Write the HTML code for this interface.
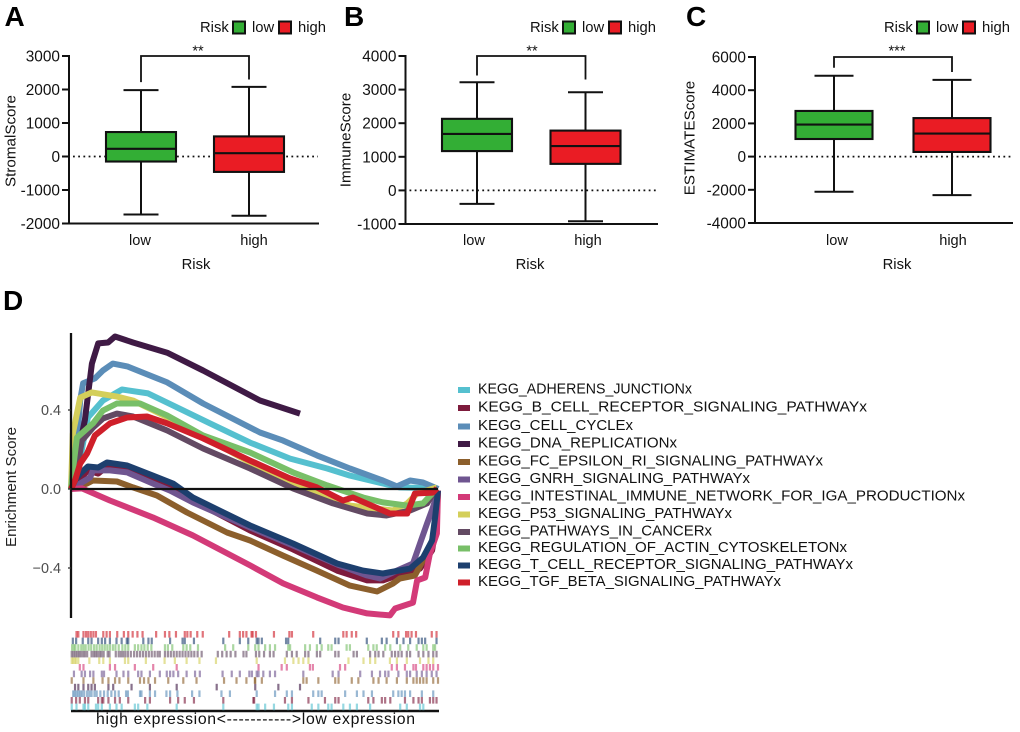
<!DOCTYPE html>
<html lang="en">
<head>
<meta charset="utf-8">
<title>Risk score boxplots and GSEA enrichment</title>
<style>
html,body{margin:0;padding:0;background:#fff;}
#figure{display:block;width:1020px;height:732px;font-family:"Liberation Sans",sans-serif;}
</style>
</head>
<body>
<svg id="figure" xmlns="http://www.w3.org/2000/svg" width="1020" height="732" viewBox="0 0 1020 732">
  <text x="4.5" y="26" font-size="28" font-weight="bold" fill="#000">A</text>
  <text x="344" y="26" font-size="28" font-weight="bold" fill="#000">B</text>
  <text x="686" y="26" font-size="28" font-weight="bold" fill="#000">C</text>
  <text x="3" y="310" font-size="28" font-weight="bold" fill="#000">D</text>
  <g id="boxA"></g>
  <g id="boxB"></g>
  <g id="boxC"></g>
  <g id="gsea"></g>
  <text x="96" y="724" font-size="15.8" textLength="319" lengthAdjust="spacing" fill="#111">high expression&lt;-----------&gt;low expression</text>
  <text transform="translate(15.8,487) rotate(-90)" font-size="15.1" text-anchor="middle" fill="#222">Enrichment Score</text>
</svg>
<script>
/* ---- box plot data: [min, q1, median, q3, max] ---- */
var categories = ['low', 'high'];
var stromalTicks = [-2000, -1000, 0, 1000, 2000, 3000];
var stromalLow = [-1730, -150, 230, 730, 1980];
var stromalHigh = [-1770, -460, 100, 600, 2080];
var stromalBracket = [2220, 3000, 2300];
var immuneTicks = [-1000, 0, 1000, 2000, 3000, 4000];
var immuneLow = [-400, 1170, 1680, 2130, 3220];
var immuneHigh = [-920, 790, 1320, 1780, 2920];
var immuneBracket = [3420, 4000, 3300];
var estimateTicks = [-4000, -2000, 0, 2000, 4000, 6000];
var estimateLow = [-2120, 1060, 1930, 2750, 4870];
var estimateHigh = [-2320, 280, 1390, 2320, 4620];
var estimateBracket = [5350, 6000, 5100];

/* ---- enrichment data: rank (%) and running enrichment score ---- */
var gseaTicks = [-0.4, 0.0, 0.4];
var seriesNames = ['KEGG_ADHERENS_JUNCTIONx','KEGG_B_CELL_RECEPTOR_SIGNALING_PATHWAYx','KEGG_CELL_CYCLEx','KEGG_DNA_REPLICATIONx','KEGG_FC_EPSILON_RI_SIGNALING_PATHWAYx','KEGG_GNRH_SIGNALING_PATHWAYx','KEGG_INTESTINAL_IMMUNE_NETWORK_FOR_IGA_PRODUCTIONx','KEGG_P53_SIGNALING_PATHWAYx','KEGG_PATHWAYS_IN_CANCERx','KEGG_REGULATION_OF_ACTIN_CYTOSKELETONx','KEGG_T_CELL_RECEPTOR_SIGNALING_PATHWAYx','KEGG_TGF_BETA_SIGNALING_PATHWAYx'];
var adherensRank = [0,1.9,4.6,8.7,13.9,21,28.9,37.9,48.8,59.7,69.8,76,85,89.6,99.7];
var adherensES = [0,.095,.362,.448,.504,.484,.413,.332,.235,.154,.104,.068,.028,.008,.003];
var bcellRank = [0,1.9,4.6,7.4,9.8,15.3,22.3,27.8,33.2,48.8,60.5,72.5,80.7,85,88.8,95.1,98.4,99.5,100];
var bcellES = [0,.04,.094,.078,.114,.114,.058,.013,-.058,-.21,-.306,-.413,-.463,-.463,-.438,-.403,-.311,-.185,-.008];
var cellCycleRank = [0,1.1,2.5,3.3,6.5,8.7,11.4,15.5,26.2,36,51.5,57.8,67,76,85,88.8,92.4,95.9,99.7,100];
var cellCycleES = [0,.09,.45,.535,.56,.60,.635,.62,.54,.433,.286,.245,.17,.104,.043,.013,.043,.033,.003,0];
var dnaRank = [0,3.8,5.7,7.4,10.1,12,16.9,26.2,36,51.5,62.4];
var dnaES = [0,.35,.635,.737,.742,.772,.742,.69,.60,.448,.382];
var fcRank = [0,1.9,4.4,6,12.5,16.9,23.4,31.6,42.5,48.8,57.8,67,76,83.4,87.7,89.6,93.7,95.9,98.4,99.7,100];
var fcES = [0,.013,.028,.043,.038,.008,-.033,-.119,-.22,-.261,-.337,-.413,-.489,-.519,-.479,-.453,-.438,-.362,-.261,-.144,-.008];
var gnrhRank = [0,2.5,5.2,6,10.6,15.3,22.3,27,33.2,48.8,60.5,72.5,80.7,84.2,88.8,93.2,95.1,97,98.6,100];
var gnrhES = [0,.028,.058,.094,.094,.084,.028,-.008,-.068,-.195,-.286,-.382,-.438,-.453,-.413,-.377,-.276,-.175,-.094,-.008];
var intestinalRank = [0,3,10.6,22.3,33.2,48.8,57.8,67,74.1,80.7,86.9,88.3,93.2,94.3,96.5,97.8,99.7,100];
var intestinalES = [0,.003,-.058,-.144,-.235,-.387,-.478,-.549,-.6,-.63,-.64,-.605,-.575,-.463,-.448,-.327,-.225,-.008];
var p53Rank = [0,.5,2.5,5.7,12.5,16.9,27,37.9,48.8,62.4,76,87.7,91.6,94.3,99.7];
var p53ES = [0,.28,.463,.489,.468,.448,.357,.246,.134,.013,-.084,-.109,-.073,-.023,.008];
var cancerRank = [0,1.1,3,6,8.7,12.5,16.9,26.2,36,48.8,60.5,71.4,80.7,86,92.4,97,99.2,100];
var cancerES = [0,.043,.246,.311,.357,.382,.367,.296,.205,.104,.003,-.073,-.124,-.134,-.109,-.073,-.008,0];
var actinRank = [0,.5,1.6,6,8.7,12.5,18.8,26.2,36,48.8,60.5,69.8,79.6,85,91.6,95.9,99.7];
var actinES = [0,.094,.26,.332,.397,.433,.433,.372,.271,.185,.084,.018,-.043,-.068,-.084,-.073,.003];
var tcellRank = [0,1.1,2.5,4.6,7.4,9.8,15.3,22.3,27.8,33.2,48.8,60.5,72.5,79.6,85,92.4,95.9,98.4,99.2,100];
var tcellES = [0,.043,.078,.114,.109,.134,.119,.068,.028,-.043,-.185,-.276,-.377,-.413,-.428,-.403,-.347,-.261,-.144,-.008];
var tgfRank = [0,1.1,2.5,4.4,6.5,10.6,15.3,20.7,26.2,36,48.8,59.7,67,74.1,76.8,86.9,91.6,93.7,98.6,99.7];
var tgfES = [0,.043,.129,.18,.271,.332,.362,.367,.332,.256,.144,.053,.008,-.058,-.043,-.124,-.124,-.023,-.018,.003];

/* ---- gene hit ranks (%) for the rug rows ---- */
var adherensHits = [.2,1.5,3.4,3.8,4.7,6.8,7.4,8.4,10.6,12.4,13.8,17.4,18.3,20.8,28.8,41.5,50.6,51.1,52.9,55.3,59.2,60.2,65.6,67.4,70.1,71,74.2,76,77.9,81.5,89.7,91.5,95.1,96];
var bcellHits = [.2,1.4,2.4,3.8,4.7,7.4,8.4,8.8,10.2,12,13.3,15.6,20.2,21.5,27,29.2,31,33.5,41.5,49.7,49.9,58.3,60.2,64.7,69.2,72,72.9,81,82.4,84.7,85.6,87,91,93.3,94.7,95.6,97.8,98.7,99.6];
var cellCycleHits = [.6,1,1.5,2,2.5,3,3.6,4.4,5,5.6,6.4,7,8,9,10,11,12,13,15,15.5,18.8,19.2,21.5,22.9,26,27,29,33,35,41,43.3,50.6,55.6,58.8,60.2,66,67.4,68.3,74.7,77.9,79.7,82,87.8,89.2,90.1,91,92.4,95.6,98.7];
var dnaHits = [1.1,2,3.4,4.7,5.6,6.5,10.2,11.5,16.5,21.5,28.8,39.7,50.2,56.5,62.4];
var fcHits = [.2,3.4,6.1,8.6,10.2,12,13.2,15.6,18.8,19.9,21.1,22.9,26.5,30.6,34.2,41.7,45.1,47.8,50.1,50.2,52,63.3,64.2,67.4,72,72.9,76.5,78.3,82.4,83.8,86,88.8,91.5,93.3,94.2,95.1,96,96.9,98.7,100];
var gnrhHits = [.8,2.9,3.8,5.2,6.1,8.4,9,12.4,14.3,15.6,18.3,19.2,21.5,24.2,26.1,27,27.9,29.2,31.5,33.8,35.1,41.3,43.8,46,48.6,49.3,50.6,51.1,52.4,54.2,55.6,63.3,71.3,72.9,78.8,82,84.2,85.6,86.5,89.2,91.5,92.4,94.2,95.6,96.9,98.3,99.6];
var intestinalHits = [2.4,3.4,10.6,12,17.4,22.4,28.8,51.1,57.4,58.8,65.1,65.9,73.3,74.7,87.4,88.8,91,93.3,94,96,96.9,97.8,98.7,100];
var p53Hits = [.2,.6,1,1.4,2,5,7.7,8.8,10.6,14.7,15.6,20.4,25.5,28.3,31.5,35,39.5,50.6,58.3,60.6,62,63.3,64.7,75.6,79.7,81.5,82.9,86.9,88.8,91.5,95.1,97.4,98.7];
var cancerHits = [.2,.7,1.2,1.7,2.2,2.7,3.3,3.8,4.4,5.6,6.2,6.7,7.2,7.8,8.3,8.9,10,10.5,12.2,13,13.6,14.2,14.8,15.5,16.3,17.2,18,18.8,19.6,20.4,21.2,22,22.8,23.6,24.2,25.6,26.4,27.2,28,28.8,29.6,30.4,31.2,32,32.8,33.6,34.5,35.6,40,41.2,42.4,43.5,44.8,47,47.8,50.4,51.3,52.6,54.2,55.2,58.8,60.2,61.5,63.8,64.7,67,67.9,72,72.9,77,77.9,81.5,82.9,83.8,85.1,87.4,88.3,89.2,90.1,91.5,92.4,94.7,96,97.4,98.7,99.6];
var actinHits = [.3,.8,1.2,2,2.8,3.4,4,4.8,5.5,6.3,7,7.8,8.5,9.2,9.9,10.6,11.4,12.1,13,14,14.8,15.6,17.4,18.3,19.2,20,20.9,21.9,25.6,26.4,27.6,30.6,31.5,32.5,34.6,42,44.2,48.3,50.2,51.1,52.9,54.2,55.6,59.2,59.7,63.8,65.1,67,68.3,70.1,71,75.1,76,81,82.4,83.3,85.6,87,89.7,91.9,94.2,96,96.9,98.7,99.2];
var tcellHits = [.5,1.4,3.2,4.7,5.6,7.4,8.4,9.3,10.6,12.4,13.8,15.2,15.6,19.7,21.1,22,27,30.4,31,33.5,41.5,46,48.3,50.6,51.1,52,58.6,59.2,67.9,72,72.9,80.6,84.7,86,88.8,90.6,92.4,94.7,95.6,96.5,99.6];
var tgfHits = [1.5,2,3.4,4.1,4.7,5.4,6.1,6.8,8.8,9.7,10.6,12.6,14.4,15.6,16.8,18.1,19.5,23.2,25.6,26.8,28.6,31,31.7,32.6,34.4,35.9,43.1,46,46.9,47.8,49.2,49.5,50.4,55.3,59.5,60.2,66,74.2,75.1,76.5,77.7,87.8,89.2,91.3,91.9,92.8,94,98.3,99.6];

var NS = 'http://www.w3.org/2000/svg';
function mk(tag, attrs, parent) {
  var e = document.createElementNS(NS, tag);
  for (var k in attrs) e.setAttribute(k, attrs[k]);
  parent.appendChild(e);
  return e;
}
function linear(d0, d1, r0, r1) {
  return function (v) { return r0 + (v - d0) * (r1 - r0) / (d1 - d0); };
}

function drawBoxPanel(cfg) {
  var g = document.getElementById(cfg.id);
  var y = linear(cfg.ticks[0], cfg.ticks[cfg.ticks.length - 1], cfg.bottom, cfg.top);
  var line, label;

  line = mk('line', {x1: cfg.axisX + 4, x2: cfg.axisEnd - 1, y1: y(0), y2: y(0), stroke: '#111', 'stroke-width': 1.8, 'stroke-dasharray': '1.8 3.4'}, g);
  
  

  var groups = [cfg.low, cfg.high];
  var fills = ['#33ae35', '#ea1c24'];
  groups.forEach(function (s, i) {
    var c = cfg.centers[i];
    var hw = cfg.boxW / 2, cw = cfg.capW / 2;
    var bg = mk('g', {}, g);
    
    
    mk('line', {x1: c, x2: c, y1: y(s[0]), y2: y(s[4]), stroke: '#111', 'stroke-width': 2}, bg);
    mk('line', {x1: c - cw, x2: c + cw, y1: y(s[0]), y2: y(s[0]), stroke: '#111', 'stroke-width': 2}, bg);
    mk('line', {x1: c - cw, x2: c + cw, y1: y(s[4]), y2: y(s[4]), stroke: '#111', 'stroke-width': 2}, bg);
    mk('rect', {x: c - hw, y: y(s[3]), width: cfg.boxW, height: y(s[1]) - y(s[3]), fill: fills[i], stroke: '#111', 'stroke-width': 2.1}, bg);
    mk('line', {x1: c - hw, x2: c + hw, y1: y(s[2]), y2: y(s[2]), stroke: '#111', 'stroke-width': 2.1}, bg);

    label = mk('text', {x: cfg.labelX[i], y: 245, 'font-size': 14.6, 'text-anchor': 'middle', fill: '#111'}, g);
    label.textContent = categories[i];
    
    
  });

  var axes = mk('g', {stroke: '#111', 'stroke-width': 2, fill: 'none'}, g);
  
  
  mk('line', {x1: cfg.axisX, x2: cfg.axisX, y1: cfg.top - 1, y2: cfg.bottom + 1}, axes);
  mk('line', {x1: cfg.axisX - 7, x2: cfg.axisEnd, y1: cfg.bottom, y2: cfg.bottom}, axes);

  cfg.ticks.forEach(function (t) {
    mk('line', {x1: cfg.axisX - 7, x2: cfg.axisX, y1: y(t), y2: y(t), stroke: '#111', 'stroke-width': 2}, g);
    label = mk('text', {x: cfg.axisX - 9, y: y(t) + 5.5, 'font-size': 15.4, 'text-anchor': 'end', fill: '#111'}, g);
    label.textContent = String(t);
    
    
  });

  var br = cfg.bracket;
  var bracket = mk('path', {d: 'M' + cfg.centers[0] + ' ' + y(br[0]) + 'V' + y(br[1]) + 'H' + cfg.centers[1] + 'V' + y(br[2]), fill: 'none', stroke: '#111', 'stroke-width': 1.8}, g);
  
  
  label = mk('text', {x: cfg.starX, y: 55.5, 'font-size': 14.5, 'text-anchor': 'middle', fill: '#111'}, g);
  label.textContent = cfg.stars;
  
  

  label = mk('text', {transform: 'translate(' + cfg.titleX + ',' + cfg.titleY + ') rotate(-90)', 'font-size': 15.2, 'text-anchor': 'middle', fill: '#111'}, g);
  label.textContent = cfg.title;
  
  
  label = mk('text', {x: cfg.riskX, y: 269, 'font-size': 14.8, 'text-anchor': 'middle', fill: '#111'}, g);
  label.textContent = 'Risk';
  
  

  var lx = cfg.legendX;
  label = mk('text', {x: lx, y: 32, 'font-size': 14.8, fill: '#111'}, g);
  label.textContent = 'Risk';
  
  
  [[33, 52], [79, 98]].forEach(function (o, i) {
    var sw = mk('rect', {x: lx + o[0], y: 21.5, width: 12, height: 12, fill: fills[i], stroke: '#111', 'stroke-width': 2}, g);
    
    
    label = mk('text', {x: lx + o[1], y: 32, 'font-size': 14.8, fill: '#111'}, g);
    label.textContent = categories[i];
    
    
  });
}

drawBoxPanel({id: 'boxA', ticks: stromalTicks, low: stromalLow, high: stromalHigh, bracket: stromalBracket, top: 56, bottom: 223.5, axisX: 69, axisEnd: 319, centers: [141, 249], labelX: [140, 254], boxW: 70, capW: 35, starX: 198, stars: '**', title: 'StromalScore', titleX: 15.5, titleY: 141, riskX: 196, legendX: 200});
drawBoxPanel({id: 'boxB', ticks: immuneTicks, low: immuneLow, high: immuneHigh, bracket: immuneBracket, top: 56, bottom: 224, axisX: 405.5, axisEnd: 658, centers: [477, 585.5], labelX: [474, 588], boxW: 70, capW: 35, starX: 532, stars: '**', title: 'ImmuneScore', titleX: 350.5, titleY: 140, riskX: 530, legendX: 530});
drawBoxPanel({id: 'boxC', ticks: estimateTicks, low: estimateLow, high: estimateHigh, bracket: estimateBracket, top: 57, bottom: 223, axisX: 755, axisEnd: 1013, centers: [834, 952], labelX: [837, 953], boxW: 77, capW: 39, starX: 897, stars: '***', title: 'ESTIMATEScore', titleX: 694.5, titleY: 138, riskX: 897, legendX: 884});

/* ---- enrichment plot ---- */
var colors = ['#55c0cf','#7d1b3c','#5b8db8','#3f1a45','#8c5f2c','#6f5590','#d33a78','#d4cf5a','#634a63','#78bf68','#1d3f6e','#cf1f2a'];
var ranks = [adherensRank, bcellRank, cellCycleRank, dnaRank, fcRank, gnrhRank, intestinalRank, p53Rank, cancerRank, actinRank, tcellRank, tgfRank];
var scores = [adherensES, bcellES, cellCycleES, dnaES, fcES, gnrhES, intestinalES, p53ES, cancerES, actinES, tcellES, tgfES];
var hits = [adherensHits, bcellHits, cellCycleHits, dnaHits, fcHits, gnrhHits, intestinalHits, p53Hits, cancerHits, actinHits, tcellHits, tgfHits];
var xRank = linear(0, 100, 71, 438);
var yES = linear(0, 0.4, 489, 410);
var gsea = document.getElementById('gsea');

seriesNames.forEach(function (name, i) {
  var pts = ranks[i].map(function (r, j) { return xRank(r).toFixed(1) + ',' + yES(scores[i][j]).toFixed(1); }).join(' ');
  var curve = mk('polyline', {points: pts, fill: 'none', stroke: colors[i], 'stroke-width': 6, 'stroke-linejoin': 'round'}, gsea);
  
  
});

var ax;
ax = mk('line', {x1: 71, x2: 71, y1: 333, y2: 618, stroke: '#111', 'stroke-width': 2.3}, gsea);


ax = mk('line', {x1: 71, x2: xRank(100), y1: yES(0), y2: yES(0), stroke: '#111', 'stroke-width': 2.3}, gsea);


ax = mk('line', {x1: 71, x2: xRank(100) + 1, y1: 711, y2: 711, stroke: '#111', 'stroke-width': 2.4}, gsea);



gseaTicks.forEach(function (t) {
  mk('line', {x1: 68, x2: 71, y1: yES(t), y2: yES(t), stroke: '#333', 'stroke-width': 1.3}, gsea);
  var tl = mk('text', {x: 61, y: yES(t) + 4.8, 'font-size': 14.4, 'text-anchor': 'end', fill: '#4d4d4d'}, gsea);
  tl.textContent = (t < 0 ? '\u2212' : '') + Math.abs(t).toFixed(1);
  
  
});

/* rug rows, bottom row is the first series */
var rowH = 6.6;
hits.forEach(function (row, i) {
  var rowTop = 631 + (11 - i) * rowH;
  var rg = mk('g', {fill: colors[i], 'fill-opacity': 0.62}, gsea);
  
  
  row.forEach(function (r) {
    mk('rect', {x: xRank(r) - 1.1, y: rowTop, width: 2.2, height: rowH}, rg);
  });
});

/* legend */
var legendRows = [388, 406, 424.5, 442, 460, 477.5, 495, 512.5, 530, 546.5, 563.5, 580.5];
var legendTextEnds = [692, 867, 633, 677, 823, 750, 965, 732, 712, 847, 853, 781];
seriesNames.forEach(function (name, i) {
  var lg = mk('g', {}, gsea);
  
  
  mk('rect', {x: 458, y: legendRows[i] - 1, width: 12, height: 6, fill: colors[i]}, lg);
  var t = mk('text', {x: 478, y: legendRows[i] + 5.4, 'font-size': 15, textLength: legendTextEnds[i] - 478, lengthAdjust: 'spacingAndGlyphs', fill: '#111'}, lg);
  t.textContent = name;
});
</script>
</body>
</html>
